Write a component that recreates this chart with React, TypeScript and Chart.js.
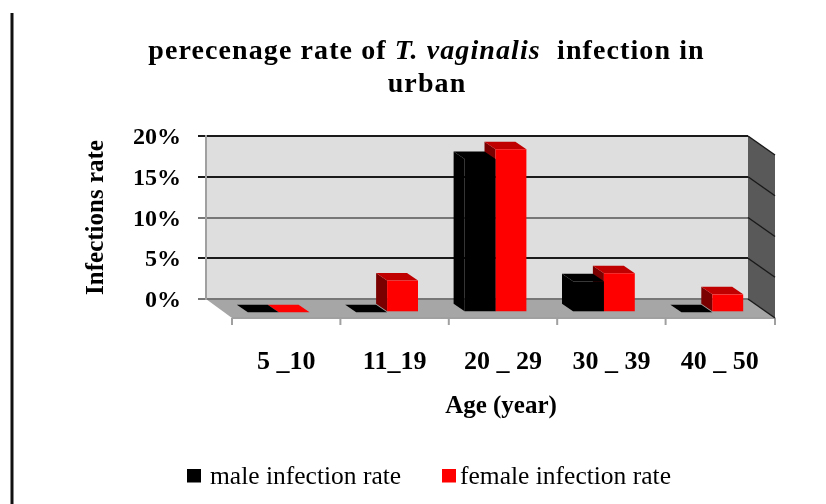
import React, { useEffect, useRef } from "react";
import { Chart, registerables } from "chart.js";

Chart.register(...registerables);

const categories = ["5 _10", "11_19", "20 _ 29", "30 _ 39", "40 _ 50"];
const maleValues = [0, 0, 18.8, 3.8, 0];
const femaleValues = [0, 3.9, 20, 4.8, 2.2];
const maleLabel = "male infection rate";
const femaleLabel = "female infection rate";
const yTicks = [0, 5, 10, 15, 20];
const yTitle = "Infections rate";
const xTitle = "Age (year)";
const titleLine1 = [
  { text: "perecenage rate of ", italic: false },
  { text: "T. vaginalis", italic: true },
  { text: "  infection in", italic: false },
];
const titleLine2 = "urban";

const SERIF = '"Liberation Serif", serif';
const FLOOR_DX = 26;
const FLOOR_DY = 19;
const BAR_DX = 18.5;
const BAR_DY = 13.3;
const EXT_DX = -11;
const EXT_DY = -7.5;

function poly(ctx: CanvasRenderingContext2D, pts: number[][], fill: string) {
  ctx.fillStyle = fill;
  ctx.beginPath();
  pts.forEach(([x, y], i) => (i ? ctx.lineTo(x, y) : ctx.moveTo(x, y)));
  ctx.closePath();
  ctx.fill();
}

const sides = ["#000000", "#7a0000"];

const chart3d = {
  id: "chart3d",
  beforeDraw(chart: any) {
    const { ctx, chartArea: a } = chart;
    ctx.save();
    ctx.fillStyle = "#ffffff";
    ctx.fillRect(0, 0, chart.width, chart.height);
    // page rule at the left of the picture
    ctx.fillStyle = "#111111";
    ctx.fillRect(10.5, 13, 3, chart.height - 13);
    // walls and floor
    ctx.fillStyle = "#dedede";
    ctx.fillRect(a.left, a.top, a.right - a.left, a.bottom - a.top);
    poly(ctx, [[a.right, a.top], [a.right + FLOOR_DX + 1, a.top + FLOOR_DY], [a.right + FLOOR_DX + 1, a.bottom + FLOOR_DY], [a.right, a.bottom]], "#595959");
    poly(ctx, [[a.left, a.bottom], [a.right, a.bottom], [a.right + FLOOR_DX + 1, a.bottom + FLOOR_DY], [a.left + FLOOR_DX, a.bottom + FLOOR_DY]], "#a6a6a6");
    // front edge and category ticks
    ctx.strokeStyle = "#a0a0a0";
    ctx.lineWidth = 2;
    ctx.beginPath();
    ctx.moveTo(a.left + FLOOR_DX, a.bottom + FLOOR_DY);
    ctx.lineTo(a.right + FLOOR_DX + 1, a.bottom + FLOOR_DY);
    const step = (a.right - a.left) / categories.length;
    for (let i = 0; i <= categories.length; i++) {
      const x = a.left + FLOOR_DX + step * i + (i === categories.length ? 1 : 0);
      ctx.moveTo(x, a.bottom + FLOOR_DY);
      ctx.lineTo(x, a.bottom + FLOOR_DY + 7);
    }
    ctx.stroke();
    ctx.restore();
  },
  beforeDatasetsDraw(chart: any) {
    const { ctx, chartArea: a, scales } = chart;
    ctx.save();
    // grid lines carried round the right wall
    ctx.strokeStyle = "#1a1a1a";
    ctx.lineWidth = 1.5;
    scales.y.ticks.forEach((t: any) => {
      const y = scales.y.getPixelForValue(t.value);
      ctx.beginPath();
      ctx.moveTo(a.right, y);
      ctx.lineTo(a.right + FLOOR_DX + 1, y + FLOOR_DY);
      ctx.stroke();
    });
    // bar extrusions, rear series first
    [1, 0].forEach((di) => {
      const meta = chart.getDatasetMeta(di);
      const col = chart.data.datasets[di].backgroundColor as string;
      meta.data.forEach((bar: any) => {
        const p = bar.getProps(["x", "y", "base", "width"], true);
        const l = p.x - p.width / 2 + BAR_DX;
        const r = p.x + p.width / 2 + BAR_DX;
        const t = p.y + BAR_DY;
        const b = p.base + BAR_DY;
        poly(ctx, [[l, t], [l + EXT_DX, t + EXT_DY], [l + EXT_DX, b + EXT_DY], [l, b]], sides[di]);
        poly(ctx, [[l, t], [l + EXT_DX, t + EXT_DY], [r + EXT_DX, t + EXT_DY], [r, t]], di === 1 && Math.abs(p.y - p.base) > 0.5 ? "#c00000" : col);
      });
    });
    ctx.restore();
  },
  beforeDatasetDraw(chart: any) {
    chart.ctx.save();
    chart.ctx.translate(BAR_DX, BAR_DY);
  },
  afterDatasetDraw(chart: any) {
    chart.ctx.restore();
  },
  afterDraw(chart: any) {
    const { ctx } = chart;
    ctx.save();
    ctx.fillStyle = "#000000";
    ctx.textBaseline = "alphabetic";
    // title with its italic run
    ctx.letterSpacing = "1.1px";
    const fontOf = (it: boolean) => `${it ? "italic " : ""}bold 28px ${SERIF}`;
    let w = 0;
    titleLine1.forEach((s) => {
      ctx.font = fontOf(s.italic);
      w += ctx.measureText(s.text).width;
    });
    let x = 426.5 - w / 2;
    ctx.textAlign = "left";
    titleLine1.forEach((s) => {
      ctx.font = fontOf(s.italic);
      ctx.fillText(s.text, x, 59);
      x += ctx.measureText(s.text).width;
    });
    ctx.font = fontOf(false);
    ctx.textAlign = "center";
    ctx.fillText(titleLine2, 427, 92);
    ctx.letterSpacing = "0px";
    // x axis title
    ctx.font = `bold 25px ${SERIF}`;
    ctx.fillText(xTitle, 501, 413);
    // legend
    const ds = chart.data.datasets;
    const legendX = [187, 442];
    const legendTextX = [210, 460];
    ctx.textAlign = "left";
    ctx.font = `25.5px ${SERIF}`;
    ds.forEach((d: any, i: number) => {
      ctx.fillStyle = d.backgroundColor;
      ctx.fillRect(legendX[i], 469, 14, 13.5);
      ctx.fillStyle = "#000000";
      ctx.fillText(d.label, legendTextX[i], 484);
    });
    ctx.restore();
  },
};

export default function App() {
  const ref = useRef<HTMLCanvasElement>(null);
  useEffect(() => {
    const chart = new Chart(ref.current!, {
      type: "bar",
      data: {
        labels: categories,
        datasets: [
          { label: maleLabel, data: maleValues, backgroundColor: "#000000", clip: false as any },
          { label: femaleLabel, data: femaleValues, backgroundColor: "#ff0000", clip: false as any },
        ],
      },
      options: {
        animation: false,
        responsive: false,
        events: [],
        categoryPercentage: 0.57,
        barPercentage: 1,
        layout: { padding: { top: 136, right: 78, bottom: 0, left: 0 } },
        plugins: { legend: { display: false }, title: { display: false }, tooltip: { enabled: false } },
        scales: {
          x: {
            afterFit: (s: any) => { s.height = 205; },
            grid: { display: false },
            border: { display: false },
            ticks: {
              color: "#000000",
              font: { family: SERIF, size: 26, weight: "bold" },
              labelOffset: FLOOR_DX,
              padding: 40,
              maxRotation: 0,
              autoSkip: false,
            },
          },
          y: {
            min: yTicks[0],
            max: yTicks[yTicks.length - 1],
            afterFit: (s: any) => { s.width = 206; },
            border: { color: "#a0a0a0", width: 2 },
            grid: {
              color: (c: any) => (c.tick && (c.tick.value === 10 || c.tick.value === 0) ? "#777777" : "#1a1a1a"),
              lineWidth: 2,
              tickLength: 8,
            },
            title: {
              display: true,
              text: yTitle,
              color: "#000000",
              font: { family: SERIF, size: 25, weight: "bold" },
              padding: { top: 82, bottom: 0 },
            },
            ticks: {
              color: "#000000",
              font: { family: SERIF, size: 24, weight: "bold" },
              padding: 17,
              labelOffset: 2,
              stepSize: 5,
              callback: (v: any) => `${v}%`,
            },
          },
        },
      } as any,
      plugins: [chart3d],
    });
    return () => chart.destroy();
  }, []);
  return (
    <div style={{ position: "absolute", left: 0, top: 0, width: 826, height: 504 }}>
      <canvas ref={ref} width={826} height={504} style={{ display: "block", filter: "blur(0.5px)" }} />
    </div>
  );
}
